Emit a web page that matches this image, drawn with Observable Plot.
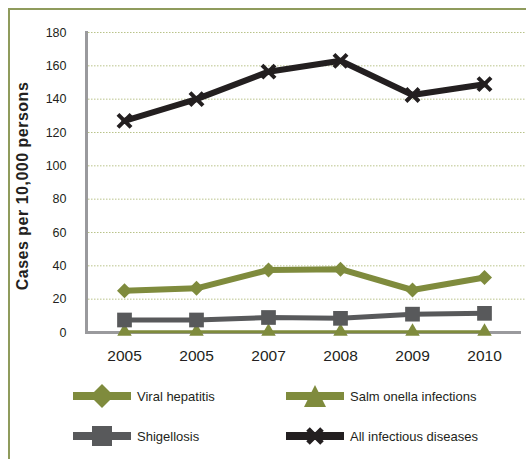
<!DOCTYPE html>
<html><head><meta charset="utf-8">
<script src="https://cdn.jsdelivr.net/npm/d3@7"></script>
<script src="https://cdn.jsdelivr.net/npm/@observablehq/plot@0.6"></script>
<style>
html,body{margin:0;padding:0;background:#fff;overflow:hidden;width:526px;height:459px;font-family:"Liberation Sans",Arial,sans-serif;color:#231f20;}
#frame{position:absolute;left:8px;top:8px;width:700px;height:700px;border-top:2px solid #8f9b5c;border-left:2px solid #8f9b5c;}
#chart{position:absolute;left:0;top:0;}
#ytitle{position:absolute;left:23px;top:186px;transform:translate(-50%,-50%) rotate(-90deg);white-space:nowrap;font-weight:bold;font-size:16px;letter-spacing:0.5px;}
.leg{position:absolute;display:flex;align-items:center;font-size:13px;}
.leg svg{margin-right:6px;}
</style></head>
<body>
<div id="frame"></div>
<div id="chart"></div>
<div id="ytitle">Cases per 10,000 persons</div>
<div id="legend"></div>
<script>
const years = ["2005","2005","2007","2008","2009","2010"];
const viralHepatitis = [25, 26.5, 37.5, 38, 25.5, 33];
const salmonella = [0.5, 0.5, 0.5, 0.5, 0.5, 0.5];
const shigellosis = [7.5, 7.5, 9, 8.5, 11, 11.5];
const allInfectious = [127, 140, 156.5, 163, 142.5, 149];
const yTicks = [0, 20, 40, 60, 80, 100, 120, 140, 160, 180];
const seriesNames = ["Viral hepatitis", "Salm onella infections", "Shigellosis", "All infectious diseases"];

const olive = "#7f8b3d", dark = "#58595b", black = "#231f20";
const series = [
  {name: seriesNames[1], values: salmonella, color: olive, sw: 3, symbol: "triangle", r: 5.4, rotate: 0},
  {name: seriesNames[2], values: shigellosis, color: dark, sw: 5, symbol: "square", r: 8.3, rotate: 0},
  {name: seriesNames[0], values: viralHepatitis, color: olive, sw: 6, symbol: "square", r: 6, rotate: 45},
  {name: seriesNames[3], values: allInfectious, color: black, sw: 6, symbol: "times", r: 6, rotate: 0}
];

const marks = [
  Plot.ruleY(yTicks.filter(d => d > 0), {stroke: "#b9c38a", strokeDasharray: "1.5,1.5", insetLeft: 2}),
  Plot.ruleY([0], {stroke: "#9a9a9d", strokeWidth: 3, insetRight: 5}),
  Plot.frame({anchor: "left", stroke: "#9a9a9d", strokeWidth: 3}),
  Plot.axisY({ticks: yTicks, tickSize: 0, tickPadding: 20, fontSize: 12.5, label: null}),
  Plot.axisX({tickSize: 0, tickPadding: 17, fontSize: 15.5, tickFormat: i => years[i], label: null})
];
for (const s of series) {
  const rows = s.values.map((v, i) => ({i, value: v}));
  marks.push(Plot.line(rows, {x: "i", y: "value", stroke: s.color, strokeWidth: s.sw, strokeLinejoin: "miter"}));
  if (s.symbol === "times") {
    marks.push(Plot.dot(rows, {x: "i", y: "value", symbol: "times", r: s.r, stroke: s.color, strokeWidth: 4}));
  } else {
    marks.push(Plot.dot(rows, {x: "i", y: "value", symbol: s.symbol, r: s.r, fill: s.color, stroke: "none", rotate: s.rotate}));
  }
}

const chart = Plot.plot({
  width: 526, height: 375,
  marginLeft: 86, marginRight: 0, marginTop: 32, marginBottom: 43,
  style: {fontFamily: "Liberation Sans, Arial, sans-serif", color: "#231f20", background: "transparent"},
  x: {type: "point", domain: d3.range(years.length), range: [86, 521], padding: 0.5},
  y: {domain: [0, 180], range: [332, 32]},
  marks
});
document.getElementById("chart").appendChild(chart);

// legend
const legendItems = [
  {name: seriesNames[0], color: olive, shape: "diamond", left: 73, top: 396},
  {name: seriesNames[1], color: olive, shape: "triangle", left: 286, top: 396},
  {name: seriesNames[2], color: dark, shape: "square", left: 73, top: 436},
  {name: seriesNames[3], color: black, shape: "times", left: 286, top: 436}
];
const legend = document.getElementById("legend");
for (const it of legendItems) {
  const d = document.createElement("div");
  d.className = "leg";
  d.style.left = it.left + "px";
  d.style.top = (it.top - 13) + "px";
  let marker = "";
  if (it.shape === "diamond") marker = `<path d="M29,1 L41,13 L29,25 L17,13Z" fill="${it.color}"/>`;
  if (it.shape === "triangle") marker = `<path d="M29,2 L40,24 L18,24Z" fill="${it.color}"/>`;
  if (it.shape === "square") marker = `<rect x="19" y="3" width="20" height="20" fill="${it.color}"/>`;
  if (it.shape === "times") marker = `<path d="M22,6 L36,20 M36,6 L22,20" stroke="${it.color}" stroke-width="5"/>`;
  d.innerHTML = `<svg width="58" height="26"><line x1="0" x2="58" y1="13" y2="13" stroke="${it.color}" stroke-width="8"/>${marker}</svg><span>${it.name}</span>`;
  legend.appendChild(d);
}
</script>
</body></html>
